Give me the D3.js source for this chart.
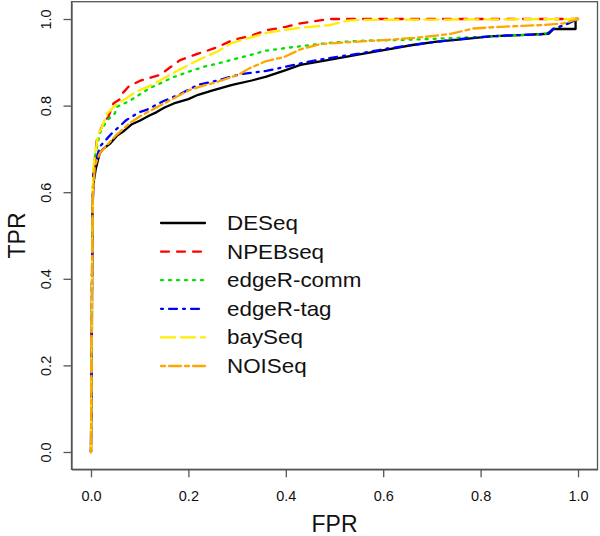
<!DOCTYPE html>
<html><head><meta charset="utf-8">
<script src="https://cdn.jsdelivr.net/npm/d3@7"></script>
<style>body{margin:0;background:#fff}svg{display:block}</style>
</head><body><svg id="c" width="600" height="536"></svg>
<script>
const seriesNames = ["DESeq","NPEBseq","edgeR-comm","edgeR-tag","baySeq","NOISeq"];
const seriesColors = ["#000000","#FF0000","#00E000","#0000FF","#FFEE00","#FFA500"];
const seriesDash = ["none","8,8","2,6","2,6,8,6","14,6","4,4,12,4"];
const xTicks = [0,0.2,0.4,0.6,0.8,1.0];
const yTicks = [0,0.2,0.4,0.6,0.8,1.0];

const deseq = [[0,0],[0.002,0.3],[0.003,0.55],[0.005,0.62],[0.01,0.655],[0.018,0.69],[0.025,0.70],[0.04,0.713],[0.053,0.73],[0.066,0.74],[0.084,0.757],[0.10,0.765],[0.12,0.777],[0.135,0.785],[0.15,0.795],[0.17,0.805],[0.2,0.815],[0.22,0.825],[0.25,0.835],[0.29,0.848],[0.33,0.858],[0.36,0.867],[0.40,0.882],[0.43,0.894],[0.48,0.904],[0.52,0.912],[0.56,0.92],[0.61,0.93],[0.66,0.94],[0.71,0.948],[0.76,0.953],[0.82,0.96],[0.88,0.963],[0.94,0.966],[0.95,0.977],[0.995,0.977],[0.995,1.0],[1,1]];
const npebseq = [[0,0],[0.002,0.4],[0.004,0.6],[0.008,0.68],[0.012,0.72],[0.02,0.745],[0.029,0.767],[0.035,0.772],[0.046,0.805],[0.06,0.815],[0.066,0.83],[0.078,0.845],[0.1,0.857],[0.142,0.871],[0.162,0.888],[0.183,0.905],[0.22,0.92],[0.26,0.935],[0.29,0.951],[0.33,0.962],[0.36,0.974],[0.40,0.982],[0.43,0.99],[0.47,0.997],[0.49,1.0],[1,1]];
const edgeRcomm = [[0,0],[0.002,0.4],[0.004,0.62],[0.008,0.68],[0.018,0.736],[0.032,0.765],[0.049,0.782],[0.053,0.797],[0.078,0.81],[0.12,0.84],[0.17,0.866],[0.2,0.878],[0.233,0.89],[0.27,0.9],[0.304,0.91],[0.36,0.927],[0.40,0.933],[0.45,0.94],[0.50,0.946],[0.56,0.95],[0.65,0.952],[0.72,0.955],[0.78,0.958],[0.85,0.961],[0.93,0.965],[0.936,0.967],[0.949,0.978],[0.97,0.985],[1,1]];
const edgeRtag = [[0,0],[0.002,0.4],[0.004,0.6],[0.005,0.65],[0.018,0.705],[0.03,0.72],[0.042,0.735],[0.073,0.767],[0.099,0.785],[0.114,0.79],[0.148,0.81],[0.18,0.825],[0.22,0.848],[0.26,0.858],[0.304,0.872],[0.36,0.88],[0.4,0.89],[0.44,0.9],[0.484,0.909],[0.55,0.92],[0.61,0.932],[0.66,0.94],[0.714,0.948],[0.77,0.955],[0.82,0.96],[0.88,0.963],[0.936,0.965],[0.949,0.977],[0.97,0.985],[1,1]];
const bayseq = [[0,0],[0.002,0.4],[0.004,0.62],[0.005,0.66],[0.015,0.736],[0.021,0.745],[0.032,0.78],[0.049,0.80],[0.07,0.815],[0.092,0.832],[0.12,0.845],[0.148,0.862],[0.18,0.882],[0.22,0.905],[0.26,0.925],[0.29,0.945],[0.33,0.958],[0.36,0.968],[0.40,0.975],[0.43,0.98],[0.49,0.986],[0.525,0.996],[0.55,0.998],[1,1]];
const noiseq = [[0,0],[0.002,0.4],[0.004,0.6],[0.008,0.66],[0.018,0.69],[0.03,0.705],[0.05,0.73],[0.08,0.76],[0.1,0.775],[0.15,0.805],[0.2,0.835],[0.224,0.844],[0.26,0.855],[0.304,0.872],[0.325,0.886],[0.36,0.903],[0.396,0.912],[0.43,0.93],[0.47,0.942],[0.52,0.946],[0.61,0.952],[0.68,0.958],[0.74,0.966],[0.784,0.978],[0.84,0.982],[0.925,0.986],[0.97,0.99],[1,1]];
const seriesData = [deseq,npebseq,edgeRcomm,edgeRtag,bayseq,noiseq];

const svg = d3.select("#c");
const font = "'Liberation Sans', Arial, Helvetica, sans-serif";
const x = d3.scaleLinear().domain([-0.04,1.04]).range([71.5,597.5]);
const y = d3.scaleLinear().domain([-0.04,1.04]).range([469.3,1.7]);

const line = d3.line().x(d=>x(d[0])).y(d=>y(d[1]));
seriesData.forEach((d,i)=>{
  svg.append("path").datum(d).attr("d",line)
    .attr("fill","none").attr("stroke",seriesColors[i]).attr("stroke-width",2.3)
    .attr("stroke-linecap","round").attr("stroke-linejoin","round")
    .attr("stroke-dasharray",seriesDash[i]);
});

// box
svg.append("rect").attr("x",x(-0.04)).attr("y",y(1.04))
  .attr("width",x(1.04)-x(-0.04)).attr("height",y(-0.04)-y(1.04))
  .attr("fill","none").attr("stroke","#555").attr("stroke-width",1.3);

const fmt = d3.format(".1f");
const xa = svg.append("g").attr("transform",`translate(0,${y(-0.04)})`)
  .call(d3.axisBottom(x).tickValues(xTicks).tickFormat(fmt).tickSize(8).tickSizeOuter(0).tickPadding(13));
xa.select(".domain").attr("stroke","#555").attr("stroke-width",1.3);
xa.selectAll(".tick line").attr("stroke","#555").attr("stroke-width",1.3);
xa.selectAll("text").attr("font-family",font).attr("font-size",14.5).attr("fill","#111");

const ya = svg.append("g").attr("transform",`translate(${x(-0.04)},0)`)
  .call(d3.axisLeft(y).tickValues(yTicks).tickFormat(fmt).tickSize(8).tickSizeOuter(0));
ya.select(".domain").attr("stroke","#555").attr("stroke-width",1.3);
ya.selectAll(".tick line").attr("stroke","#555").attr("stroke-width",1.3);
ya.selectAll("text").attr("font-family",font).attr("font-size",14.5).attr("fill","#111")
  .attr("x",0).attr("y",-21).attr("dy",0).attr("text-anchor","middle").attr("transform","rotate(-90)");

svg.append("text").attr("x",(x(0)+x(1))/2).attr("y",532).attr("text-anchor","middle")
  .attr("font-family",font).attr("font-size",23).attr("fill","#111").text("FPR");
svg.append("text").attr("transform",`translate(25,${(y(0)+y(1))/2}) rotate(-90)`).attr("text-anchor","middle")
  .attr("font-family",font).attr("font-size",23).attr("fill","#111").text("TPR");

// legend
const lg = svg.append("g");
seriesNames.forEach((n,i)=>{
  const cy = 223 + i*28.6;
  lg.append("line").attr("x1",161).attr("x2",205).attr("y1",cy).attr("y2",cy)
    .attr("stroke",seriesColors[i]).attr("stroke-width",2.3).attr("stroke-linecap","round")
    .attr("stroke-dasharray",seriesDash[i]);
  lg.append("text").attr("transform",`translate(227,${cy+7}) scale(1.12,1)`)
    .attr("font-family",font).attr("font-size",20).attr("fill","#111").text(n);
});
</script></body></html>
